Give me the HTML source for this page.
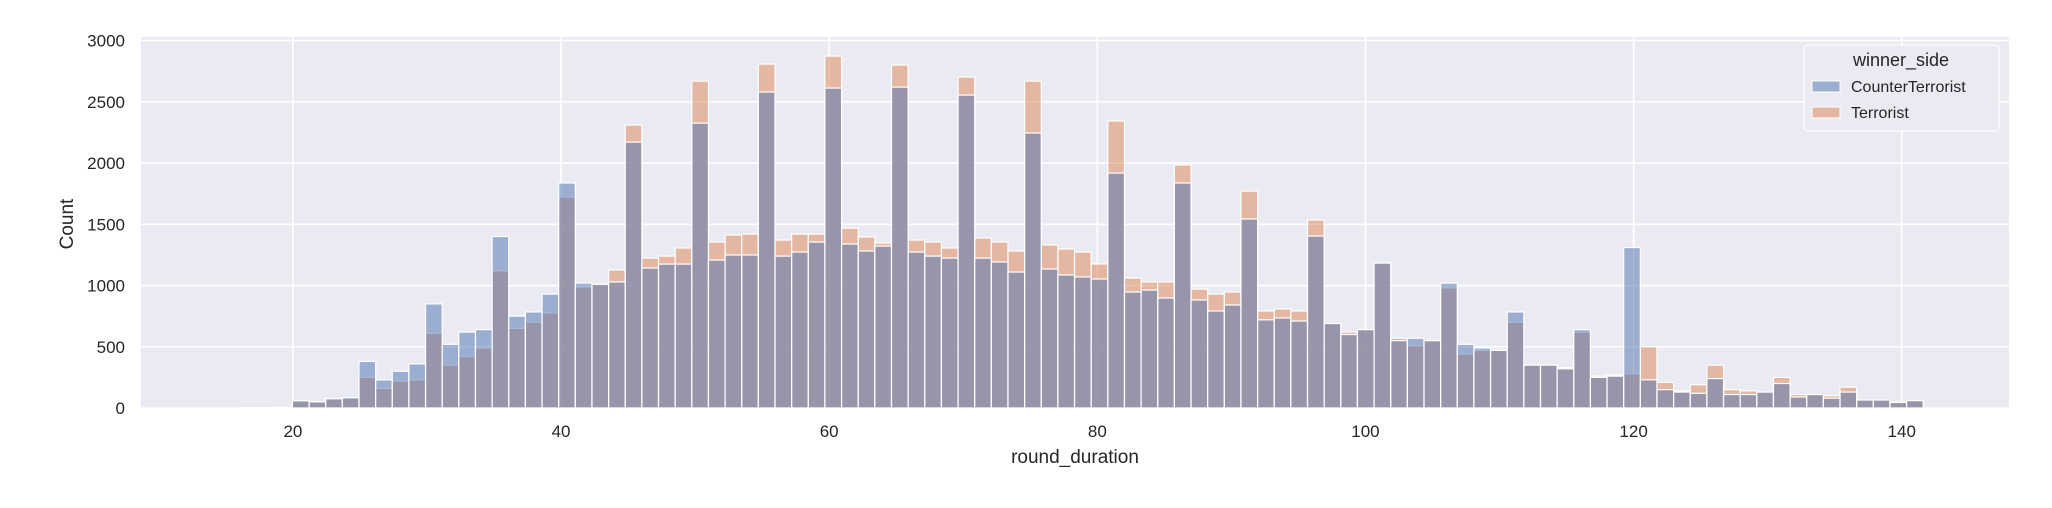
<!DOCTYPE html>
<html><head><meta charset="utf-8"><style>
body{margin:0;background:#fff;}
svg{display:block;font-family:"Liberation Sans","DejaVu Sans",sans-serif;}
</style></head><body>
<svg id="chart" width="2052" height="508" viewBox="0 0 2052 508" xmlns="http://www.w3.org/2000/svg">
<rect x="141" y="37" width="1868" height="371" fill="#eaeaf2"/>
<g id="grid"></g>
<g id="bars"></g>
<g id="ticks"></g>
<text x="1075" y="463" font-size="19" text-anchor="middle" fill="#262626">round_duration</text>
<text x="73" y="224" font-size="19" text-anchor="middle" fill="#262626" transform="rotate(-90 73 224)">Count</text>
<g>
<rect x="1804" y="45" width="195" height="86" rx="4" fill="#eaeaf2" stroke="#ffffff" stroke-width="1.3" opacity="0.9"/>
<text x="1901" y="66" font-size="18" text-anchor="middle" fill="#262626">winner_side</text>
<rect x="1812" y="81" width="28" height="11" fill="rgba(76,114,176,0.5)" stroke="#fff" stroke-width="1"/>
<text x="1851" y="92" font-size="16" fill="#262626">CounterTerrorist</text>
<rect x="1812" y="107" width="28" height="11" fill="rgba(221,132,82,0.5)" stroke="#fff" stroke-width="1"/>
<text x="1851" y="118" font-size="16" fill="#262626">Terrorist</text>
</g>
</svg>
<script>
const binStart = 15;
const binWidth = 1.2412;
const ctCounts = [0,2,3,5,60,50,75,85,380,230,300,360,850,520,620,640,1400,750,784,930,
1837,1020,1010,1029,2171,1143,1175,1175,2326,1208,1249,1249,2580,1240,1273,1355,2612,1339,1282,1322,
2620,1273,1240,1224,2555,1224,1192,1110,2245,1135,1086,1070,1053,1918,947,963,898,1837,882,792,
841,1543,720,735,710,1404,690,600,640,1184,550,570,550,1020,520,490,470,784,350,350,
320,640,250,260,1310,230,150,130,120,240,110,110,130,200,90,110,80,130,65,65,45,60];
const tCounts = [0,2,3,5,55,50,75,80,250,160,220,230,610,350,420,490,1120,650,700,776,
1722,988,1010,1127,2310,1224,1240,1306,2669,1355,1412,1420,2808,1371,1420,1420,2873,1469,1396,1347,
2800,1371,1355,1306,2702,1388,1355,1282,2669,1331,1298,1273,1176,2343,1061,1029,1029,1984,971,930,
947,1771,792,808,792,1535,690,620,640,1180,570,510,550,980,440,470,470,700,350,350,
330,620,260,270,280,500,210,140,190,350,150,140,130,250,110,110,100,170,65,65,50,60];
const xTicks = [20,40,60,80,100,120,140];
const yTicks = [0,500,1000,1500,2000,2500,3000];

const NS="http://www.w3.org/2000/svg";
const X0=141,X1=2009,Y0=408,Y1=37;
const xMin=8.67,xMax=148.0,yMax=3029;
function xs(v){return X0+(v-xMin)/(xMax-xMin)*(X1-X0);}
function ys(v){return Y0-v/yMax*(Y0-Y1);}
function mk(tag,attrs,parent){const e=document.createElementNS(NS,tag);for(const k in attrs)e.setAttribute(k,attrs[k]);parent.appendChild(e);return e;}
const grid=document.getElementById('grid'),bars=document.getElementById('bars'),ticks=document.getElementById('ticks');
xTicks.forEach(t=>{
  const l=mk('line',{x1:xs(t),x2:xs(t),y1:Y1,y2:Y0,stroke:'#fff','stroke-width':1.6},grid);
  
  
  const tx=mk('text',{x:xs(t),y:437,'font-size':17,'text-anchor':'middle',fill:'#262626'},ticks);
  tx.textContent=t;
  
  
});
yTicks.forEach(t=>{
  const l=mk('line',{x1:X0,x2:X1,y1:ys(t),y2:ys(t),stroke:'#fff','stroke-width':1.6},grid);
  
  
  const tx=mk('text',{x:125,y:ys(t)+6,'font-size':17,'text-anchor':'end',fill:'#262626'},ticks);
  tx.textContent=t;
  
  
});
function drawSeries(arr,color,name){
  arr.forEach((v,i)=>{
    if(v<=0)return;
    const a=binStart+i*binWidth,b=a+binWidth;
    const r=mk('rect',{x:xs(a),y:ys(v),width:xs(b)-xs(a),height:Y0-ys(v),fill:color,stroke:'#fff','stroke-width':1.2},bars);
    
    
  });
}
drawSeries(tCounts,'rgba(221,132,82,0.5)','bar-terrorist');
drawSeries(ctCounts,'rgba(76,114,176,0.5)','bar-counterterrorist');
</script>
</body></html>
